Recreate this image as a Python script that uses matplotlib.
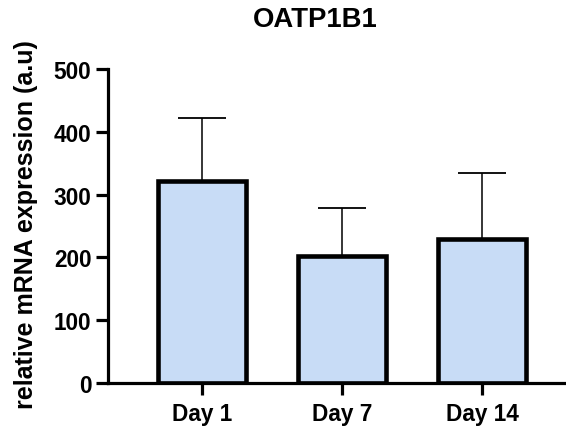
import matplotlib
matplotlib.use("Agg")
import matplotlib.pyplot as plt

# --- Data ---
groups = ["Day 1", "Day 7", "Day 14"]
means = [321, 202, 230]
sd_upper = [101, 77, 105]
y_ticks = [0, 100, 200, 300, 400, 500]

plt.rcParams['font.family'] = ['Liberation Sans', 'DejaVu Sans']
plt.rcParams['font.weight'] = 'bold'

fig = plt.figure(figsize=(5.66, 4.35), dpi=100)
ax = fig.add_axes([108 / 566, 51 / 435, 458 / 566, 314 / 435])

x = list(range(len(groups)))

# upward-only error bars, drawn under the bars
ax.errorbar(x, means, yerr=[[0] * len(means), sd_upper], fmt='none',
            ecolor='black', elinewidth=1.1, capsize=17, capthick=1.3, zorder=1)
ax.bar(x, means, width=0.63, color='#c8dcf6', edgecolor='black',
       linewidth=3.3, zorder=2)

ax.set_ylim(0, 500)
ax.set_xlim(-0.671, 2.6)
ax.set_yticks(y_ticks)
ax.set_xticks(x)
ax.set_xticklabels(groups)

for s in ['top', 'right']:
    ax.spines[s].set_visible(False)
for s in ['left', 'bottom']:
    ax.spines[s].set_linewidth(2.3)

ax.tick_params(axis='both', width=2.3, length=8.5, labelsize=16.3, pad=3.5)
ax.tick_params(axis='x', pad=5)
for lab in ax.get_xticklabels() + ax.get_yticklabels():
    lab.set_fontweight('bold')

fig.text(315 / 566, 1 - 20 / 435, "OATP1B1", ha='center', va='center',
         fontsize=19.8, fontweight='bold')
fig.text(26 / 566, 1 - 225 / 435, "relative mRNA expression (a.u)",
         rotation=90, ha='center', va='center', fontsize=18,
         fontweight='bold')

fig.savefig("out.png", dpi=100)
